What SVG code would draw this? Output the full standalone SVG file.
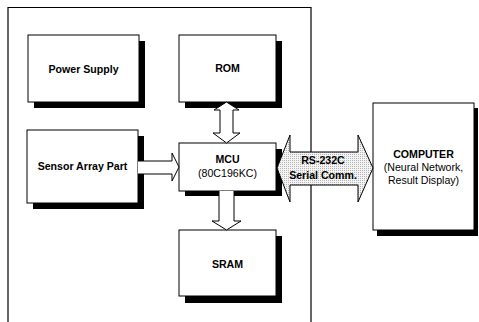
<svg xmlns="http://www.w3.org/2000/svg" width="479" height="322" viewBox="0 0 479 322">
<style>
.shadow{fill:#000}
.box{fill:#fff;stroke:#000;stroke-width:1}
.arrow{fill:#fff;stroke:#000;stroke-width:1;stroke-linejoin:miter}
.serial{fill:url(#dots);stroke:#000;stroke-width:1}
text{font-family:"Liberation Sans",Arial,sans-serif;font-size:10.6px;fill:#000;text-anchor:middle}
.b{font-weight:bold}
.frame{fill:none;stroke:#000;stroke-width:1.2}
</style>
<defs>
<pattern id="dots" width="2" height="2" patternUnits="userSpaceOnUse">
<rect width="2" height="2" fill="#f4f4f4"/>
<rect width="1" height="1" fill="#b4b4b4"/>
</pattern>
</defs>
<rect width="479" height="322" fill="#fff"/>
<path class="frame" d="M8,322 L8,7.5 L311,7.5 L311,322"/>
<g id="power-supply">
<rect class="shadow" x="34" y="41" width="111" height="67"/>
<rect class="box" x="28" y="35" width="111" height="67"/>
<text class="b" x="83.5" y="72.5">Power Supply</text>
</g>
<g id="rom">
<rect class="shadow" x="185" y="41" width="97" height="67"/>
<rect class="box" x="179" y="35" width="97" height="67"/>
<text class="b" x="227.5" y="72">ROM</text>
</g>
<g id="sensor-array">
<rect class="shadow" x="33" y="136" width="111" height="73"/>
<rect class="box" x="27" y="130" width="111" height="73"/>
<text class="b" x="82.5" y="170">Sensor Array Part</text>
</g>
<g id="mcu">
<rect class="shadow" x="185" y="149" width="97" height="47"/>
<rect class="box" x="179" y="143" width="97" height="48"/>
<text class="b" x="227.5" y="163">MCU</text>
<text x="227.5" y="177">(80C196KC)</text>
</g>
<g id="sram">
<rect class="shadow" x="185" y="236" width="97" height="67"/>
<rect class="box" x="179" y="230" width="97" height="66"/>
<text class="b" x="227.5" y="268">SRAM</text>
</g>
<g id="computer">
<rect class="shadow" x="377" y="108" width="101" height="128"/>
<rect class="box" x="373" y="103" width="101" height="127"/>
<text class="b" x="423.5" y="158">COMPUTER</text>
<text x="423.5" y="171">(Neural Network,</text>
<text x="423.5" y="184">Result Display)</text>
</g>
<g id="connectors">
<path class="arrow" d="M226.5,102 L239,110 L233,110 L233,133 L240,133 L226.5,143 L213,133 L220,133 L220,110 L214,110 Z"/>
<path class="arrow" d="M219,191 L219,221 L212,221 L226.5,230 L241,221 L234,221 L234,191"/>
<path class="arrow" d="M138,161 L172,161 L172,153 L179,167 L172,181 L172,174 L138,174"/>
<path class="serial" d="M277,168 L290,135 L290,152 L358,152 L358,135 L373,168 L358,202 L358,185 L290,185 L290,202 Z"/>
<text class="b" x="323" y="164">RS-232C</text>
<text class="b" x="323" y="179">Serial Comm.</text>
</g>
</svg>
